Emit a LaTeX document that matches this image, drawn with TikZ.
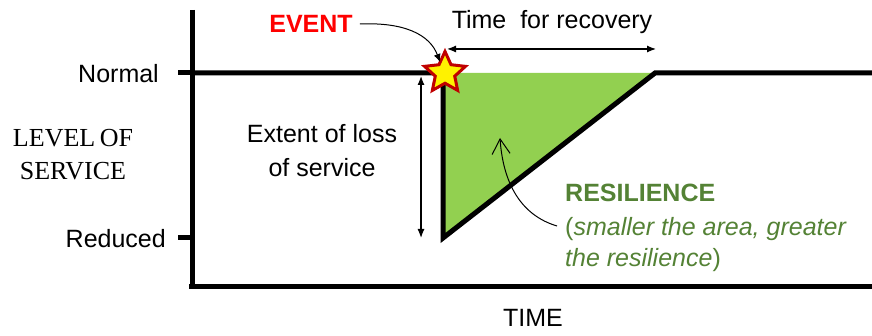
\documentclass[tikz,border=0pt]{standalone}
\usepackage{fontspec}
\setmainfont{Liberation Sans}
\newfontfamily\seriffont{Liberation Serif}
\usetikzlibrary{shapes.geometric,arrows.meta}
\definecolor{areagreen}{HTML}{92D050}
\definecolor{txtgreen}{HTML}{548235}
\definecolor{evred}{HTML}{FF0000}
\definecolor{starred}{HTML}{C00000}
\begin{document}
\begin{tikzpicture}[x=1pt,y=-1pt,
  thickline/.style={line width=5pt},
  thinarrow/.style={line width=1.2pt,{Latex[length=9pt,width=7pt]}-{Latex[length=9pt,width=7pt]}},
  lbl/.style={font=\fontsize{25}{34}\selectfont, inner sep=1pt},
  serlbl/.style={font=\seriffont\fontsize{26}{33}\selectfont, inner sep=1pt}]
\useasboundingbox (0,0) rectangle (872,336);
% key points
\coordinate (ytop) at (192,10);
\coordinate (origin) at (192,287);
\coordinate (xorig) at (189,287);
\coordinate (xend) at (872,287);
\coordinate (nstart) at (192,73);
\coordinate (ev) at (443,73);
\coordinate (rec) at (655,73);
\coordinate (low) at (443,238);
\coordinate (nend) at (872,73);
\coordinate (ntick) at (178,73);
\coordinate (rtick) at (178,238);
\coordinate (rtickend) at (192,238);
% area
\fill[areagreen] (ev) -- (rec) -- (low) -- cycle;
% axes
\draw[thickline] (ytop) -- (origin);
\draw[thickline] (xorig) -- (xend);
\draw[thickline] (ntick) -- (nstart);
\draw[thickline] (rtick) -- (rtickend);
% service curve
\draw[thickline, line join=miter, miter limit=3] (nstart) -- (ev) -- (low) -- (rec) -- (nend);
% axis labels
\node[lbl, anchor=east] (normal) at (160,74) {Normal};
\node[lbl, anchor=east] (reduced) at (167,239) {Reduced};
\node[serlbl, align=center] (los) at (73,155) {LEVEL\kern-2pt\ OF\\SERVICE};
\node[lbl] (time) at (533,318) {TIME};
% recovery
\node[lbl] (tfr) at (552,22) {Time\ \ for recovery};
\coordinate (ra) at (447,49);
\coordinate (rb) at (656,49);
\draw[thinarrow] (ra) -- (rb);
% extent
\node[lbl, align=center, anchor=base] (ext) at (322,177) {Extent of loss\\of service};
\coordinate (ea) at (421,76);
\coordinate (eb) at (421,238);
\draw[thinarrow] (ea) -- (eb);
% event
\node[star, star points=5, star point ratio=2.1, minimum size=43pt, inner sep=0pt,
      fill=yellow, draw=starred, line width=3pt] (star) at (445,73) {};
\node[lbl, text=evred, font=\bfseries\fontsize{25}{30}\selectfont] (evt) at (311,24) {EVENT};
\coordinate (evhit) at (440,62);
\draw[line width=1pt, -{Latex[length=8pt,width=7pt]}] (evt.east) ++(6,0) coordinate (evs)
   .. controls (405,22) and (430,35) .. (evhit);
% resilience
\node[lbl, anchor=base west, text=txtgreen, font=\bfseries\fontsize{25}{30}\selectfont] (res) at (564,202) {RESILIENCE};
\node[lbl, anchor=base west, align=left, text=txtgreen, font=\fontsize{25}{31}\selectfont] (resnote) at (564,267)
   {(\textit{smaller the area, greater}\\\textit{the resilience})};
\coordinate (rs) at (557,226);
\coordinate (rt) at (500,138);
\draw[line width=1pt, -{Straight Barb[length=15pt,width=18pt]}] (rs) .. controls (520,215) and (503,182) .. (rt);
\end{tikzpicture}
\end{document}
